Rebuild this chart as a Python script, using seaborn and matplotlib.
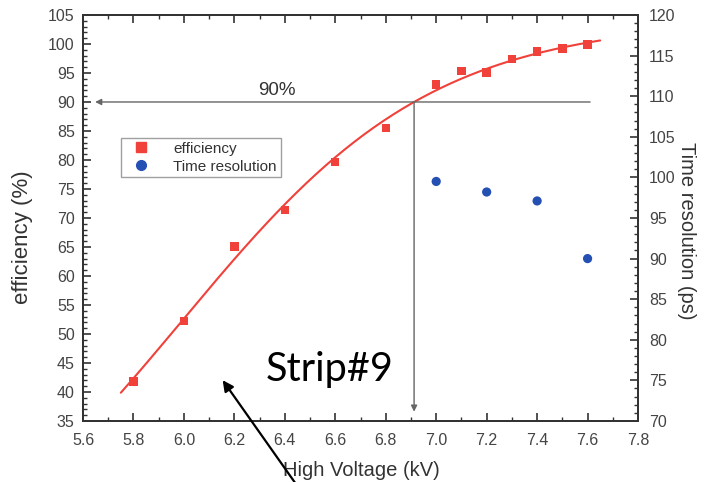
import numpy as np
import pandas as pd
import seaborn as sns
import matplotlib
matplotlib.use("Agg")
import matplotlib.pyplot as plt
from matplotlib.patches import FancyArrowPatch
from matplotlib.ticker import MultipleLocator, FormatStrFormatter
from matplotlib.lines import Line2D

# Measured efficiency vs high voltage
voltage_eff = [5.8, 6.0, 6.2, 6.4, 6.6, 6.8, 7.0, 7.1, 7.2, 7.3, 7.4, 7.5, 7.6]
efficiency = [41.8, 52.2, 65.1, 71.4, 79.7, 85.5, 93.0, 95.3, 95.1, 97.4, 98.7, 99.2, 99.9]

# Measured time resolution vs high voltage
voltage_time = [7.0, 7.2, 7.4, 7.6]
time_res = [99.5, 98.2, 97.1, 90.0]

x_ticks = [5.6, 5.8, 6.0, 6.2, 6.4, 6.6, 6.8, 7.0, 7.2, 7.4, 7.6, 7.8]

RED = "#f0413a"
BLUE = "#2450b4"
GREY = "#444444"


def logistic_fit(v, e):
    """Least-squares logistic (plateau, midpoint, width) via a plateau scan."""
    v = np.asarray(v, float)
    e = np.asarray(e, float)
    best = None
    for plateau in np.linspace(e.max() + 0.5, 130, 400):
        z = np.log(e / (plateau - e))
        slope, icpt = np.polyfit(v, z, 1)
        pred = plateau / (1 + np.exp(-(slope * v + icpt)))
        err = np.sum((pred - e) ** 2)
        if best is None or err < best[0]:
            best = (err, plateau, slope, icpt)
    _, plateau, slope, icpt = best
    return lambda x: plateau / (1 + np.exp(-(slope * np.asarray(x) + icpt)))


sns.set_theme(style="ticks")
plt.rcParams["font.family"] = ["Liberation Sans", "DejaVu Sans"]

fig = plt.figure(figsize=(7.04, 4.82), dpi=100)
ax = fig.add_axes([0.1179, 0.1266, 0.7884, 0.8423])
ax2 = ax.twinx()

eff_df = pd.DataFrame({"voltage": voltage_eff, "efficiency": efficiency})
time_df = pd.DataFrame({"voltage": voltage_time, "time": time_res})

curve = logistic_fit(voltage_eff, efficiency)
fit_v = np.linspace(5.75, 7.65, 200)
fit_df = pd.DataFrame({"voltage": fit_v, "efficiency": curve(fit_v)})
x_90 = float(np.interp(90.0, fit_df["efficiency"], fit_df["voltage"]))

sns.lineplot(data=fit_df, x="voltage", y="efficiency", ax=ax, color=RED, lw=1.5, zorder=3)
sns.scatterplot(data=eff_df, x="voltage", y="efficiency", ax=ax, marker="s", s=36,
                color=RED, edgecolor="none", zorder=4)
sns.scatterplot(data=time_df, x="voltage", y="time", ax=ax2, marker="o", s=44,
                color=BLUE, edgecolor="none", zorder=4)

# 90% guide lines
ax.annotate("", xy=(5.648, 90), xytext=(7.61, 90),
            arrowprops=dict(arrowstyle="-|>", color="#666666", lw=1.0, mutation_scale=9,
                            shrinkA=0, shrinkB=0))
ax.annotate("", xy=(x_90, 36.6), xytext=(x_90, 90),
            arrowprops=dict(arrowstyle="-|>", color="#666666", lw=1.0, mutation_scale=9,
                            shrinkA=0, shrinkB=0))
ax.text(6.369, 90.5, "90%", ha="center", va="bottom", fontsize=13.5, color="#333333")

ax.text(6.579, 43.8, "Strip#9", ha="center", va="center", fontsize=28.5,
        color="black", family=["Lato", "DejaVu Sans"])

# Pointer arrow coming in from below the figure
fig.add_artist(FancyArrowPatch(
    posA=(0.428, -0.02), posB=(0.314, 0.216), transform=fig.transFigure,
    arrowstyle="-|>", mutation_scale=16, lw=1.6, color="black"))

# Axes limits and ticks
ax.set_xlim(5.6, 7.8)
ax.set_ylim(35, 105)
ax2.set_ylim(70, 120)
ax.set_xticks(x_ticks)
ax.xaxis.set_major_formatter(FormatStrFormatter("%.1f"))
ax.xaxis.set_minor_locator(MultipleLocator(0.1))
ax.yaxis.set_major_locator(MultipleLocator(5))
ax.yaxis.set_minor_locator(MultipleLocator(1))
ax2.yaxis.set_major_locator(MultipleLocator(5))
ax2.yaxis.set_minor_locator(MultipleLocator(1))

for a in (ax, ax2):
    a.tick_params(which="major", direction="in", length=6, width=1.2, colors="#333333",
                  labelcolor=GREY, labelsize=11.5, top=True, pad=6)
    a.tick_params(which="minor", direction="in", length=3, width=1.0, colors="#333333", top=True)
    for s in a.spines.values():
        s.set_visible(True)
        s.set_linewidth(1.4)
        s.set_color("#333333")
ax.tick_params(axis="x", which="major", pad=9)
ax.tick_params(axis="y", which="both", right=False)
ax2.tick_params(axis="y", which="both", left=False, right=True)
ax2.tick_params(axis="y", which="major", pad=8)

ax.set_xlabel("High Voltage (kV)", fontsize=14.5, color="#333333")
ax.xaxis.set_label_coords(0.502, -0.0985)
ax.set_ylabel("efficiency (%)", fontsize=16, color="#333333")
ax.yaxis.set_label_coords(-0.090, 0.453)
ax2.set_ylabel("Time resolution (ps)", fontsize=14.5, color="#333333",
               rotation=270, va="center")
ax2.yaxis.set_label_coords(1.087, 0.468)

handles = [
    Line2D([], [], marker="s", color=RED, lw=0, markersize=6.5),
    Line2D([], [], marker="o", color=BLUE, lw=0, markersize=7),
]
leg = ax2.legend(handles, ["efficiency", "Time resolution"], loc="upper left",
                 bbox_to_anchor=(0.068, 0.697), borderaxespad=0, frameon=True,
                 fancybox=False, fontsize=11, handletextpad=1.0, borderpad=0.25,
                 labelspacing=0.25, handlelength=2.2)
leg.get_frame().set_edgecolor("#888888")
leg.get_frame().set_linewidth(1.0)
for t in leg.get_texts():
    t.set_color("#333333")

fig.savefig("out.png", dpi=100)
